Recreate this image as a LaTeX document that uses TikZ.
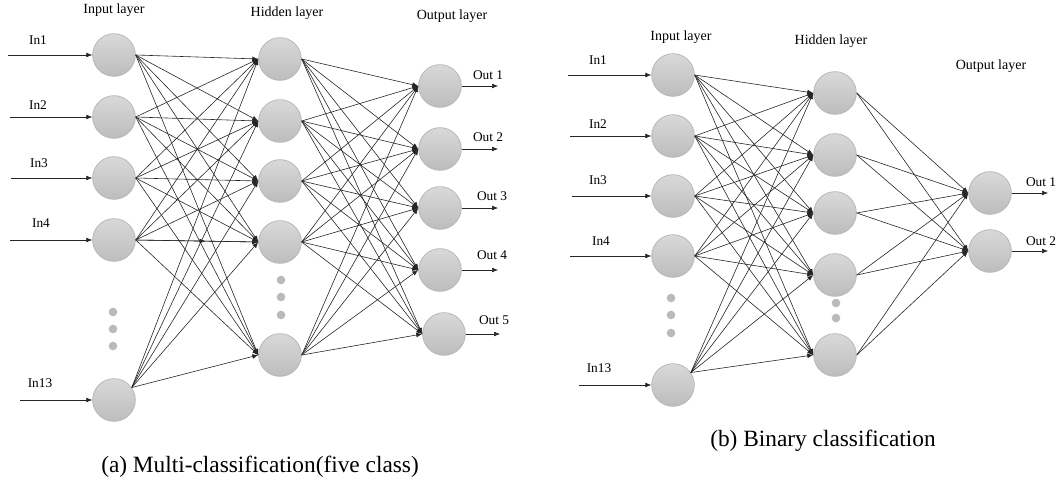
\documentclass[tikz,border=0pt]{standalone}
\usepackage{fontspec}
\setmainfont{Liberation Serif}
\usetikzlibrary{arrows.meta,decorations.markings}
\begin{document}
\begin{tikzpicture}[x=0.75pt,y=-0.75pt,
  neuron/.style={circle,inner sep=0pt,minimum size=32pt,draw=black!28,line width=0.6pt,
    top color=black!15,bottom color=black!26},
  dotnode/.style={circle,inner sep=0pt,minimum size=6.5pt,fill=black!27},
  conn/.style={-{Latex[length=4.5pt,width=3.6pt]},line width=0.45pt,draw=black!85},
  lbl/.style={font=\fontsize{10}{12}\selectfont,inner sep=0pt},
  ttl/.style={font=\fontsize{10.5}{12}\selectfont,inner sep=0pt},
  captxt/.style={font=\fontsize{17.5}{20}\selectfont,inner sep=0pt}]
\useasboundingbox (0,0) rectangle (1059,485);

% ================= (a) =================
\foreach \n/\y in {1/55,2/117,3/178,4/240,13/400}
  \node[neuron] (a-i\n) at (114,\y) {};
\foreach \n/\y in {1/59,2/121,3/181,4/242,5/355}
  \node[neuron] (a-h\n) at (280,\y) {};
\foreach \n/\y in {1/86,2/149,3/208,4/270}
  \node[neuron] (a-o\n) at (440,\y) {};
\node[neuron] (a-o5) at (444,334) {};

\foreach \n/\y in {1/312,2/329,3/346}
  \node[dotnode] (a-di\n) at (113,\y) {};
\foreach \n/\y in {1/280,2/297,3/315}
  \node[dotnode] (a-dh\n) at (281,\y) {};

\foreach \i/\an in {1/east,2/east,3/east,4/east,13/35}
  \foreach \h in {1,...,5}
    \draw[conn] (a-i\i.\an) -- (a-h\h.west);
\foreach \h in {1,...,5}
  \foreach \o in {1,...,5}
    \draw[conn] (a-h\h.east) -- (a-o\o.west);
\draw[conn,postaction={decorate},decoration={markings,
  mark=at position 0.57 with {\arrow{Latex[length=4.5pt,width=3.6pt]}}}]
  (a-i4.east) -- (a-h4.west);

\foreach \n/\x in {1/8,2/10,3/11,4/10,13/20}
  \coordinate (a-s\n) at (\x,0 |- a-i\n);
\foreach \n in {1,2,3,4,13}
  \draw[conn] (a-s\n) -- (a-i\n.west);
\foreach \n/\x/\y in {1/38/40,2/38/105,3/39/163,4/41/223,13/40/383}
  \node[lbl] (a-l\n) at (\x,\y) {In\n};

\foreach \n/\x in {1/498,2/498,3/498,4/498,5/500}
  \coordinate (a-t\n) at (\x,0 |- a-o\n);
\foreach \n in {1,...,5}
  \draw[conn] (a-o\n.east) -- (a-t\n);
\foreach \n/\x/\y in {1/488/75,2/488/137,3/492/196,4/492/255,5/494/320}
  \node[lbl] (a-ol\n) at (\x,\y) {Out \n};

\node[ttl] (a-ti) at (114,10) {Input layer};
\node[ttl] (a-th) at (287,13) {Hidden layer};
\node[ttl] (a-to) at (452,16) {Output layer};
\node[captxt] (a-cap) at (260,467) {(a) Multi-classification(five class)};

% ================= (b) =================
\foreach \n/\y in {1/75,2/136,3/196,4/256,13/385}
  \node[neuron] (b-i\n) at (673,\y) {};
\foreach \n/\y in {1/93,2/155,3/213,4/275,5/355}
  \node[neuron] (b-h\n) at (835,\y) {};
\foreach \n/\y in {1/193,2/251}
  \node[neuron] (b-o\n) at (990,\y) {};

\foreach \n/\y in {1/298,2/315,3/333}
  \node[dotnode] (b-di\n) at (671,\y) {};
\foreach \n/\y in {1/303,2/318}
  \node[dotnode] (b-dh\n) at (836,\y) {};

\foreach \i/\an in {1/east,2/east,3/east,4/east,13/35}
  \foreach \h in {1,...,5}
    \draw[conn] (b-i\i.\an) -- (b-h\h.west);
\foreach \h in {1,...,5}
  \foreach \o in {1,2}
    \draw[conn] (b-h\h.east) -- (b-o\o.west);

\foreach \n/\x in {1/568,2/570,3/572,4/570,13/579}
  \coordinate (b-s\n) at (\x,0 |- b-i\n);
\foreach \n in {1,2,3,4,13}
  \draw[conn] (b-s\n) -- (b-i\n.west);
\foreach \n/\x/\y in {1/598/60,2/598/124,3/598/180,4/601/241,13/599/368}
  \node[lbl] (b-l\n) at (\x,\y) {In\n};

\foreach \n in {1,2}
  \coordinate (b-t\n) at (1048,0 |- b-o\n);
\foreach \n in {1,2}
  \draw[conn] (b-o\n.east) -- (b-t\n);
\foreach \n/\y in {1/182,2/241}
  \node[lbl] (b-ol\n) at (1041,\y) {Out \n};

\node[ttl] (b-ti) at (681,37) {Input layer};
\node[ttl] (b-th) at (831,41) {Hidden layer};
\node[ttl] (b-to) at (991,66) {Output layer};
\node[captxt] (b-cap) at (823,441) {(b) Binary classification};
\end{tikzpicture}
\end{document}
